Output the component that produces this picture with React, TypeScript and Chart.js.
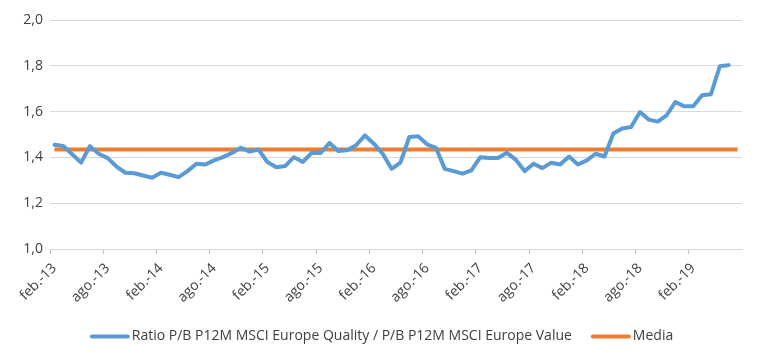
import React, { useEffect, useRef } from "react";
import { Chart, registerables } from "chart.js";

Chart.register(...registerables);

const MONTHS = ["ene.", "feb.", "mar.", "abr.", "may.", "jun.", "jul.", "ago.", "sep.", "oct.", "nov.", "dic."];

// feb-13 .. jun-19 monthly
const categories: string[] = [];
for (let y = 2013, m = 1; !(y === 2019 && m === 6); ) {
  categories.push(`${MONTHS[m]}-${String(y).slice(2)}`);
  m++;
  if (m === 12) { m = 0; y++; }
}
categories.push("jun.-19");

const ratioValues = [
  1.455, 1.45, 1.414, 1.377, 1.449, 1.416, 1.397, 1.36, 1.333, 1.331, 1.321, 1.311,
  1.333, 1.324, 1.314, 1.34, 1.372, 1.369, 1.387, 1.401, 1.419, 1.442, 1.425, 1.434,
  1.38, 1.357, 1.362, 1.401, 1.38, 1.42, 1.419, 1.463, 1.428, 1.431, 1.453, 1.496,
  1.46, 1.416, 1.35, 1.377, 1.489, 1.492, 1.457, 1.442, 1.35, 1.34, 1.329, 1.343,
  1.401, 1.397, 1.397, 1.42, 1.39, 1.34, 1.372, 1.353, 1.377, 1.369, 1.404, 1.369,
  1.387, 1.416, 1.404, 1.504, 1.526, 1.533, 1.598, 1.565, 1.556, 1.584, 1.642, 1.623,
  1.623, 1.671, 1.676, 1.798, 1.803,
];

const mediaValue = 1.435;
const mediaValues = categories.map(() => mediaValue);

const seriesNames = ["Ratio P/B P12M MSCI Europe Quality / P/B P12M MSCI Europe Value", "Media"];
const seriesColors = ["#5B9BD5", "#ED7D31"];

const yMin = 1.0;
const yMax = 2.0;
const yStep = 0.2;
const labelEvery = 6;

const FONT = "'Open Sans', 'Noto Sans', sans-serif";
const TEXT_COLOR = "#404040";
const GRID_COLOR = "#d9d9d9";

const legendPlugin = {
  id: "customLegend",
  afterDraw(chart: any) {
    const ctx = chart.ctx as CanvasRenderingContext2D;
    ctx.save();
    ctx.font = `14px ${FONT}`;
    ctx.textBaseline = "middle";
    const sample = 38;
    const gapText = 3;
    const gapItem = 20;
    const widths = seriesNames.map((n) => ctx.measureText(n).width);
    let total = 0;
    widths.forEach((w, i) => {
      total += sample + gapText + w + (i < widths.length - 1 ? gapItem : 0);
    });
    let x = 382 - total / 2;
    const y = 336.5;
    seriesNames.forEach((name, i) => {
      ctx.strokeStyle = seriesColors[i];
      ctx.lineWidth = 4;
      ctx.lineCap = "round";
      ctx.beginPath();
      ctx.moveTo(x + 1, y);
      ctx.lineTo(x + sample - 1, y);
      ctx.stroke();
      x += sample + gapText;
      ctx.fillStyle = TEXT_COLOR;
      ctx.fillText(name, x, y);
      x += widths[i] + gapItem;
    });
    ctx.restore();
  },
};

export default function App() {
  const canvasRef = useRef<HTMLCanvasElement | null>(null);

  useEffect(() => {
    document.body.style.margin = "0";
    const canvas = canvasRef.current!;
    const chart = new Chart(canvas, {
      type: "line",
      data: {
        labels: categories,
        datasets: [
          {
            label: seriesNames[0],
            data: ratioValues,
            borderColor: seriesColors[0],
            backgroundColor: seriesColors[0],
            borderWidth: 4,
            pointRadius: 0,
            tension: 0,
            borderJoinStyle: "round",
            borderCapStyle: "round",
          },
          {
            label: seriesNames[1],
            data: mediaValues,
            borderColor: seriesColors[1],
            backgroundColor: seriesColors[1],
            borderWidth: 4,
            pointRadius: 0,
            tension: 0,
          },
        ],
      },
      options: {
        responsive: false,
        animation: false,
        events: [],
        layout: { padding: { top: 20, right: 28, left: 0, bottom: 0 } },
        plugins: {
          legend: { display: false },
          tooltip: { enabled: false },
        },
        scales: {
          x: {
            type: "category",
            offset: true,
            afterFit(scale: any) {
              scale.height = 114;
            },
            grid: {
              offset: true,
              drawOnChartArea: false,
              drawTicks: true,
              tickLength: 5,
              color: (c: any) => (c.index % labelEvery === 0 ? "#bfbfbf" : "rgba(0,0,0,0)"),
              tickColor: (c: any) => (c.index % labelEvery === 0 ? "#bfbfbf" : "rgba(0,0,0,0)"),
            },
            border: { display: true, color: GRID_COLOR, width: 1 },
            ticks: {
              autoSkip: false,
              maxRotation: 45,
              minRotation: 45,
              padding: 6,
              color: TEXT_COLOR,
              font: { family: FONT, size: 14 },
              callback: (_v: any, i: number) => (i % labelEvery === 0 ? categories[i] : ""),
            },
          },
          y: {
            min: yMin,
            max: yMax,
            afterFit(scale: any) {
              scale.width = 50;
            },
            grid: {
              color: GRID_COLOR,
              lineWidth: 1,
              drawTicks: false,
            },
            border: { display: false },
            ticks: {
              stepSize: yStep,
              padding: 7,
              color: TEXT_COLOR,
              font: { family: FONT, size: 14 },
              callback: (v: any) => Number(v).toFixed(1).replace(".", ","),
            },
          },
        },
      },
      plugins: [legendPlugin],
    });
    return () => chart.destroy();
  }, []);

  return (
    <div style={{ position: "absolute", left: 0, top: 0, width: 770, height: 363 }}>
      <canvas ref={canvasRef} width={770} height={363} style={{ width: 770, height: 363 }} />
    </div>
  );
}
